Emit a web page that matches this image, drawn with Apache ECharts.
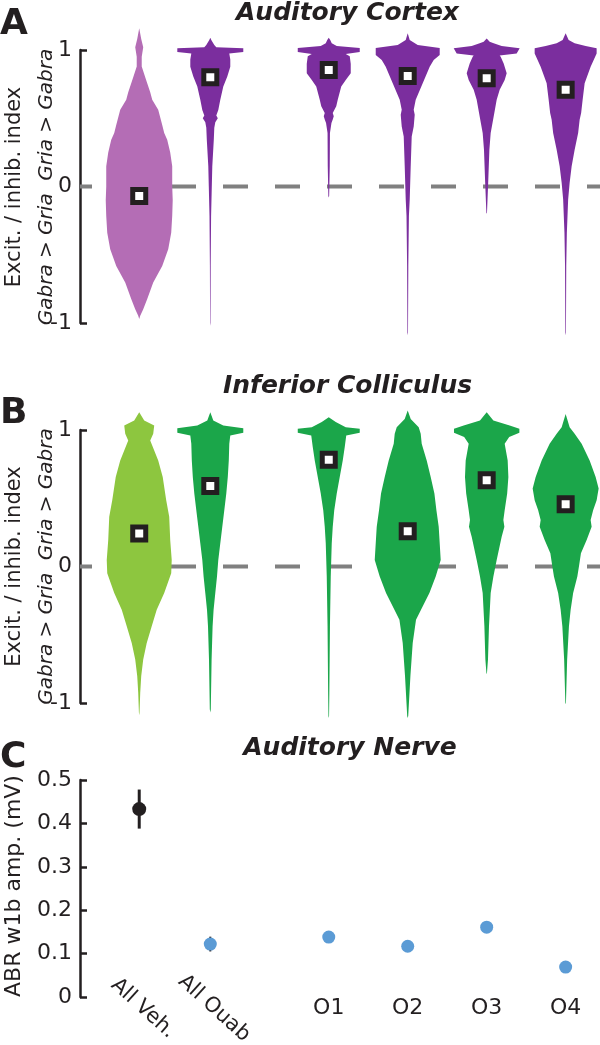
<!DOCTYPE html>
<html>
<head>
<meta charset="utf-8">
<script src="https://cdn.jsdelivr.net/npm/echarts@6/dist/echarts.min.js"></script>
<style>
html,body{margin:0;padding:0;background:#ffffff;}
#chart{width:600px;height:1045px;}
</style>
</head>
<body>
<div id="chart"></div>
<script>
// ---------- data ----------
const groupLabels = ['All Veh.', 'All Ouab', 'O1', 'O2', 'O3', 'O4'];
const groupPositions = [1, 1.9, 3.4, 4.4, 5.4, 6.4];

// violin profiles: [E/I index value, density]
const acVeh  = [[1.16,0],[1.08,2],[1.02,4],[0.95,2.5],[0.88,2.5],[0.8,6],[0.757,8],[0.69,11],[0.635,13],[0.562,19],[0.45,23],[0.392,25],[0.343,28],[0.25,31],[0.148,33],[0.0,33],[-0.1,33.5],[-0.217,33],[-0.338,32],[-0.46,29],[-0.582,23],[-0.703,14],[-0.825,8],[-0.9,4],[-0.947,1],[-0.97,0]];
const acOuab = [[1.09,0],[1.073,1],[1.036,4],[1.02,6],[1.013,33],[0.985,33],[0.975,19],[0.93,20],[0.878,20],[0.805,17],[0.732,13],[0.635,10],[0.56,8],[0.52,6],[0.5,7.5],[0.47,5],[0.43,4],[0.343,3.5],[0.148,2],[0.0,1.5],[-0.217,0.8],[-0.58,0.4],[-1.0,0.2],[-1.02,0]];
const acO1   = [[1.09,0],[1.073,1.5],[1.049,3],[1.03,8],[1.015,31],[0.985,31],[0.97,17],[0.955,21],[0.9,22],[0.83,22],[0.78,17],[0.732,12.5],[0.635,9],[0.587,7.5],[0.538,4],[0.515,5],[0.49,4],[0.465,2.7],[0.392,1.2],[0.148,1],[-0.07,0.4],[-0.08,0]];
const acO2   = [[1.122,0],[1.073,2],[1.036,10],[1.015,32],[0.963,32],[0.927,26],[0.878,22],[0.757,15],[0.635,8],[0.562,6],[0.526,7],[0.44,6],[0.367,4],[0.148,3],[-0.095,2],[-0.217,1.2],[-0.582,0.6],[-1.07,0.3],[-1.09,0]];
const acO3   = [[1.085,0],[1.06,3],[1.049,7],[1.03,15],[1.012,33],[0.975,30],[0.96,13],[0.951,14],[0.902,17],[0.83,20],[0.78,18],[0.708,13],[0.635,10],[0.513,7],[0.392,4],[0.27,2.7],[0.027,1.5],[-0.192,0.3],[-0.2,0]];
const acO4   = [[1.122,0],[1.073,3],[1.049,9],[1.03,20],[1.012,31],[0.975,31],[0.878,25],[0.757,19],[0.635,17],[0.538,15.5],[0.489,14],[0.392,12.5],[0.27,9],[0.148,6],[0.027,4],[-0.095,2.5],[-0.338,1.2],[-0.582,0.6],[-1.07,0.3],[-1.09,0]];

const icVeh  = [[1.13,0],[1.07,5],[1.033,15],[0.972,14],[0.923,11],[0.85,15],[0.777,19],[0.656,23.5],[0.486,27],[0.364,30],[0.194,31],[0.048,32.5],[-0.049,32],[-0.195,25],[-0.317,17.5],[-0.438,12.5],[-0.56,7.5],[-0.682,4],[-0.803,2],[-0.925,1],[-1.07,0.3],[-1.09,0]];
const icOuab = [[1.13,0],[1.07,3],[1.033,13],[1.013,33],[0.98,33],[0.96,20],[0.899,19],[0.777,18.5],[0.656,17.5],[0.534,16],[0.413,14],[0.291,12],[0.17,10],[0.048,8],[-0.073,6.7],[-0.195,5],[-0.317,3.3],[-0.438,2.3],[-0.682,1.3],[-1.046,0.5],[-1.07,0]];
const icO1   = [[1.094,0],[1.058,7],[1.021,17],[1.01,31],[0.98,31],[0.96,17.5],[0.875,16],[0.777,14],[0.656,11],[0.534,8],[0.413,5.5],[0.291,4],[0.17,3],[-0.073,2],[-0.438,1.2],[-0.925,0.6],[-1.095,0.3],[-1.11,0]];
const icO2   = [[1.142,0],[1.081,3],[1.021,11],[0.972,13],[0.899,14],[0.777,19],[0.656,23],[0.534,26.7],[0.413,28.7],[0.291,31],[0.17,32],[0.048,33],[-0.073,28],[-0.195,21.7],[-0.317,13.3],[-0.39,8.3],[-0.56,5],[-0.803,2.7],[-1.095,0.5],[-1.11,0]];
const icO3   = [[1.13,0],[1.07,6.7],[1.033,23],[1.01,32.7],[0.98,32.7],[0.948,22.5],[0.899,18],[0.777,21],[0.656,21.7],[0.534,20.5],[0.413,18],[0.34,16.7],[0.291,17.7],[0.218,15],[0.048,10],[-0.073,6.7],[-0.195,4],[-0.438,2.3],[-0.682,1.3],[-0.779,0.3],[-0.79,0]];
const icO4   = [[1.118,0],[1.021,4],[0.972,9],[0.899,16],[0.777,24],[0.656,30],[0.571,33],[0.486,31],[0.413,27.5],[0.34,25],[0.291,26],[0.194,21],[0.097,15.3],[0.0,13.3],[-0.073,11.7],[-0.195,7.5],[-0.317,5],[-0.438,3.3],[-0.682,1.5],[-0.998,0.3],[-1.01,0]];

const cortexMedians = [-0.07, 0.80, 0.854, 0.81, 0.793, 0.708];
const collicMedians = [0.242, 0.59, 0.782, 0.259, 0.631, 0.456];

const abrMean = [0.433, 0.122, 0.138, 0.117, 0.161, 0.069];
const abrErr  = [0.045, 0.017, 0, 0, 0, 0];

// ---------- styling ----------
const FONT = '"DejaVu Sans", sans-serif';
const INK = '#231f20';
const cortexColors = ['#b46db5', '#7b2e9e', '#7b2e9e', '#7b2e9e', '#7b2e9e', '#7b2e9e'];
const collicColors = ['#8dc63f', '#1ba64a', '#1ba64a', '#1ba64a', '#1ba64a', '#1ba64a'];
const BLUE = '#5b9bd5';
const X_MIN = 0.25, X_MAX = 6.835;
const DENS_TO_X = 1 / 79;

const cortexProfiles = [acVeh, acOuab, acO1, acO2, acO3, acO4];
const collicProfiles = [icVeh, icOuab, icO1, icO2, icO3, icO4];

function violinSeries(gridIdx, profiles, colors) {
  return {
    type: 'custom',
    xAxisIndex: gridIdx, yAxisIndex: gridIdx,
    z: 3, silent: true, clip: false,
    data: groupPositions.map((p, i) => [p, profiles[i][0][0]]),
    renderItem: function (params, api) {
      const i = params.dataIndex;
      const pos = groupPositions[i];
      const prof = profiles[i];
      const pts = [];
      for (let k = 0; k < prof.length; k++) pts.push(api.coord([pos + prof[k][1] * DENS_TO_X, prof[k][0]]));
      for (let k = prof.length - 1; k >= 0; k--) pts.push(api.coord([pos - prof[k][1] * DENS_TO_X, prof[k][0]]));
      return { type: 'polygon', shape: { points: pts }, style: { fill: colors[i], stroke: null } };
    }
  };
}
function zeroLine(gridIdx) {
  return {
    type: 'line', xAxisIndex: gridIdx, yAxisIndex: gridIdx, z: 1, silent: true,
    symbol: 'none', data: [[X_MIN, 0], [X_MAX, 0]],
    lineStyle: { color: '#808080', width: 4, type: [25, 27], dashOffset: 13 }
  };
}
function medianSeries(gridIdx, meds) {
  return {
    type: 'scatter', xAxisIndex: gridIdx, yAxisIndex: gridIdx, z: 5, silent: true,
    symbol: 'rect', symbolSize: 13,
    itemStyle: { color: '#ffffff', borderColor: INK, borderWidth: 5, opacity: 1 },
    data: groupPositions.map((p, i) => [p, meds[i]])
  };
}
function eiYAxis(gridIdx) {
  return {
    gridIndex: gridIdx, type: 'value', min: -1, max: 1, interval: 1,
    axisLine: { show: true, onZero: false, lineStyle: { color: INK, width: 2.5 } },
    axisTick: { show: true, inside: true, length: 7, lineStyle: { color: INK, width: 2.5 } },
    axisLabel: { fontSize: 22, color: INK, fontFamily: FONT, margin: 8 },
    splitLine: { show: false }
  };
}
function hiddenX(gridIdx) {
  return { gridIndex: gridIdx, type: 'value', min: X_MIN, max: X_MAX, show: false, splitLine: { show: false } };
}
function labelFor(v) {
  for (let i = 0; i < groupPositions.length; i++) if (Math.abs(groupPositions[i] - v) < 1e-6) return groupLabels[i];
  return '';
}

const chart = echarts.init(document.getElementById('chart'), null, { renderer: 'canvas' });

const option = {
  animation: false,
  backgroundColor: '#ffffff',
  textStyle: { fontFamily: FONT },
  grid: [
    { left: 80, top: 50, width: 520, height: 273, outerBoundsMode: 'none', containLabel: false },
    { left: 80, top: 430, width: 520, height: 273, outerBoundsMode: 'none', containLabel: false },
    { left: 80, top: 780, width: 520, height: 217, outerBoundsMode: 'none', containLabel: false }
  ],
  xAxis: [
    hiddenX(0), hiddenX(1),
    {
      gridIndex: 2, type: 'value', position: 'bottom', offset: 0, min: X_MIN, max: X_MAX,
      axisLine: { show: false, onZero: false }, axisTick: { show: false }, splitLine: { show: false },
      axisLabel: {
        customValues: groupPositions.slice(0, 2), formatter: labelFor,
        rotate: -42, align: 'center', verticalAlign: 'middle', margin: 8, padding: [0, 0, 0, 10],
        fontSize: 21, color: INK, fontFamily: FONT
      }
    },
    {
      gridIndex: 2, type: 'value', position: 'bottom', offset: 0, min: X_MIN, max: X_MAX,
      axisLine: { show: false, onZero: false }, axisTick: { show: false }, splitLine: { show: false },
      axisLabel: {
        customValues: groupPositions.slice(2), formatter: labelFor,
        rotate: 0, align: 'center', verticalAlign: 'middle', margin: 11,
        fontSize: 22, color: INK, fontFamily: FONT
      }
    }
  ],
  yAxis: [
    eiYAxis(0), eiYAxis(1),
    {
      gridIndex: 2, type: 'value', min: 0, max: 0.5, interval: 0.1,
      axisLine: { show: true, onZero: false, lineStyle: { color: INK, width: 2.5 } },
      axisTick: { show: true, inside: true, length: 7, lineStyle: { color: INK, width: 2.5 } },
      axisLabel: { fontSize: 22, color: INK, fontFamily: FONT, margin: 8,
        formatter: v => (v === 0 ? '0' : v.toFixed(1)) },
      splitLine: { show: false }
    }
  ],
  series: [
    zeroLine(0), violinSeries(0, cortexProfiles, cortexColors), medianSeries(0, cortexMedians),
    zeroLine(1), violinSeries(1, collicProfiles, collicColors), medianSeries(1, collicMedians),
    {
      type: 'custom', xAxisIndex: 2, yAxisIndex: 2, z: 2, silent: true, clip: false,
      data: groupPositions.map((p, i) => [p, abrMean[i] - abrErr[i], abrMean[i] + abrErr[i]]),
      renderItem: function (params, api) {
        const a = api.coord([api.value(0), api.value(1)]);
        const b = api.coord([api.value(0), api.value(2)]);
        return { type: 'line', shape: { x1: a[0], y1: a[1], x2: b[0], y2: b[1] },
          style: { stroke: INK, lineWidth: params.dataIndex === 0 ? 3 : 2 } };
      }
    },
    {
      type: 'scatter', xAxisIndex: 2, yAxisIndex: 2, z: 4, silent: true,
      data: groupPositions.map((p, i) => [p, abrMean[i]]),
      symbol: 'circle',
      symbolSize: (v, p) => (p.dataIndex === 0 ? 14 : 13),
      itemStyle: { opacity: 1, color: p => (p.dataIndex === 0 ? INK : BLUE) }
    }
  ],
  graphic: [
    { type: 'text', x: 0, y: 25, style: { text: 'A', fontSize: 36, fontWeight: 'bold', fontFamily: FONT, fill: INK, align: 'left', verticalAlign: 'middle' } },
    { type: 'text', x: 0, y: 413.5, style: { text: 'B', fontSize: 36, fontWeight: 'bold', fontFamily: FONT, fill: INK, align: 'left', verticalAlign: 'middle' } },
    { type: 'text', x: 0, y: 757.5, style: { text: 'C', fontSize: 36, fontWeight: 'bold', fontFamily: FONT, fill: INK, align: 'left', verticalAlign: 'middle' } },
    { type: 'text', x: 347.5, y: 13, style: { text: 'Auditory Cortex', fontSize: 25, fontWeight: 'bold', fontStyle: 'italic', fontFamily: FONT, fill: INK, align: 'center', verticalAlign: 'middle' } },
    { type: 'text', x: 347.5, y: 386, style: { text: 'Inferior Colliculus', fontSize: 25, fontWeight: 'bold', fontStyle: 'italic', fontFamily: FONT, fill: INK, align: 'center', verticalAlign: 'middle' } },
    { type: 'text', x: 350, y: 748, style: { text: 'Auditory Nerve', fontSize: 25, fontWeight: 'bold', fontStyle: 'italic', fontFamily: FONT, fill: INK, align: 'center', verticalAlign: 'middle' } },
    { type: 'text', x: 14.5, y: 187, rotation: Math.PI / 2, style: { text: 'Excit. / inhib. index', fontSize: 21, fontFamily: FONT, fill: INK, align: 'center', verticalAlign: 'middle' } },
    { type: 'text', x: 47, y: 187, rotation: Math.PI / 2, style: { text: 'Gabra > Gria  Gria > Gabra', fontSize: 20, fontStyle: 'italic', fontFamily: FONT, fill: INK, align: 'center', verticalAlign: 'middle' } },
    { type: 'text', x: 14.5, y: 566.5, rotation: Math.PI / 2, style: { text: 'Excit. / inhib. index', fontSize: 21, fontFamily: FONT, fill: INK, align: 'center', verticalAlign: 'middle' } },
    { type: 'text', x: 47, y: 566.5, rotation: Math.PI / 2, style: { text: 'Gabra > Gria  Gria > Gabra', fontSize: 20, fontStyle: 'italic', fontFamily: FONT, fill: INK, align: 'center', verticalAlign: 'middle' } },
    { type: 'text', x: 14.5, y: 886, rotation: Math.PI / 2, style: { text: 'ABR w1b amp. (mV)', fontSize: 22, fontFamily: FONT, fill: INK, align: 'center', verticalAlign: 'middle' } }
  ]
};
chart.setOption(option);
</script>
</body>
</html>
